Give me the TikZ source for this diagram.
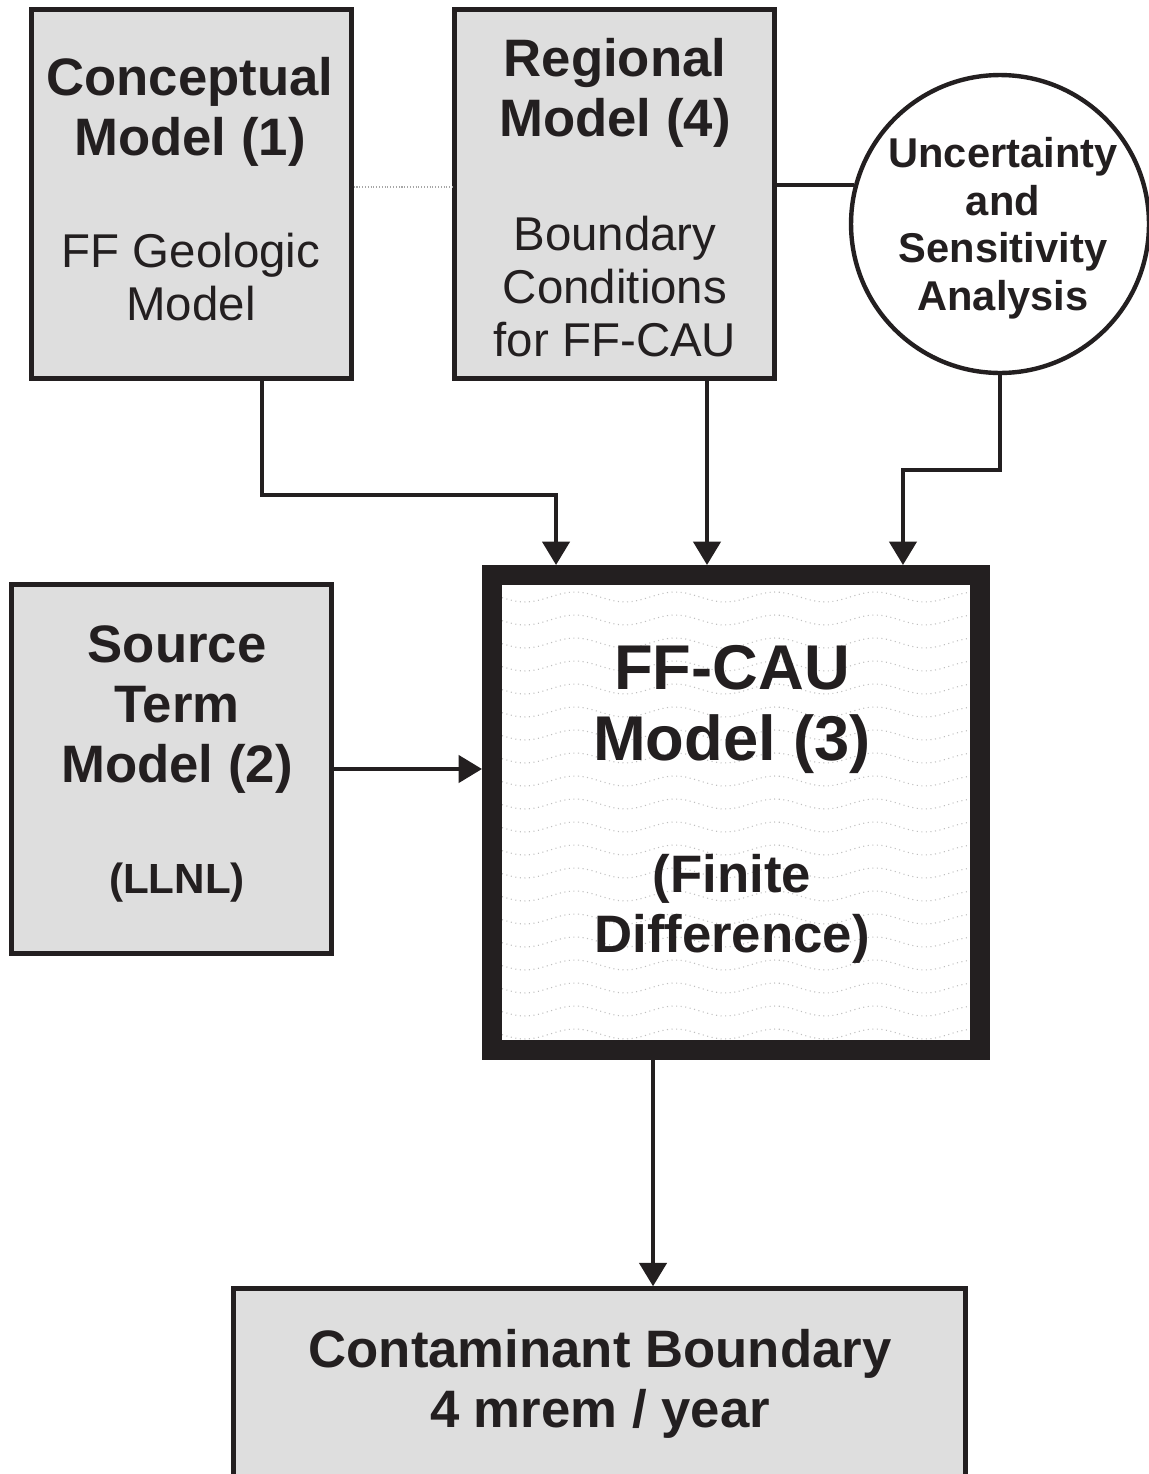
\documentclass[tikz,border=0pt]{standalone}
\usepackage{fontspec}
\setmainfont{Liberation Sans}
\usepackage{xcolor}
\definecolor{boxgray}{RGB}{222,222,222}
\definecolor{inkblack}{RGB}{35,31,32}
\usepackage{tikz}
\usetikzlibrary{positioning}
\usetikzlibrary{arrows.meta}

\begin{document}
\begin{tikzpicture}[x=0.02cm,y=-0.02cm,
  modelbox/.style={draw=inkblack,fill=boxgray,line width=2.5pt,minimum width=6.4cm,minimum height=7.38cm,inner sep=0pt},
  mainbox/.style={draw=inkblack,fill=white,line width=0.4cm,minimum width=9.76cm,minimum height=9.5cm,inner sep=0pt},
  roundbox/.style={circle,draw=inkblack,fill=white,line width=2.5pt,minimum size=5.96cm,inner sep=0pt},
  bigtext/.style={font=\fontsize{30}{34}\selectfont\bfseries,align=center,anchor=base,inner sep=0pt,text=inkblack},
  subtext/.style={font=\fontsize{27}{30}\selectfont,align=center,anchor=base,inner sep=0pt,text=inkblack},
  conn/.style={draw=inkblack,line width=2.6pt,-{Triangle[length=0.47cm,width=0.54cm]}},
  texture/.style={gray!50,dotted,line width=0.6pt}
]
\useasboundingbox (0,0) rectangle (1149,1474);

% boxes
\node[modelbox] (concept) at (191.5,194) {};
\node[modelbox] (regional) at (614.5,194) {};
\node[modelbox] (source) at (171.5,769) {};
\node[roundbox] (uncert) at (1000,224) {};
\node[mainbox] (ffcau) at (736,812.5) {};
\node[modelbox,minimum width=14.64cm,minimum height=4.3cm] (result) at (599.5,1396) {};

% texture inside the main model
\begin{scope}
  \clip (502,585) rectangle (970,1040);
  \foreach \r in {0,...,19}
    \draw[texture] plot[domain=502:970,samples=80] (\x,{597+\r*23+5*sin(3.6*\x)});
\end{scope}

% texts (anchored at the last baseline)
\node[bigtext] (conceptT) at (190,155) {Conceptual\\Model (1)};
\node[subtext] (conceptS) at (191,320) {FF Geologic\\Model};
\node[bigtext] (regionalT) at (615,136) {Regional\\Model (4)};
\node[subtext] (regionalS) at (615,356) {Boundary\\Conditions\\for FF-CAU};
\node[bigtext,font=\fontsize{23.7}{27}\selectfont\bfseries] (uncertT) at (1003,310) {Uncertainty\\and\\Sensitivity\\Analysis};
\node[bigtext] (sourceT) at (177,782) {Source\\Term\\Model (2)};
\node[bigtext,font=\fontsize{24}{28}\selectfont\bfseries] (sourceS) at (177,893) {(LLNL)};
\node[bigtext,font=\fontsize{36}{40}\selectfont\bfseries] (ffcauT) at (732,760) {FF-CAU\\Model (3)};
\node[bigtext] (ffcauS) at (732,952) {(Finite\\Difference)};
\node[bigtext] (resultT) at (600,1427) {Contaminant Boundary\\4 mrem / year};

% connectors
\coordinate (lvl) at (400,187);
\coordinate (bendA) at (262,495);
\coordinate (bendC) at (950,470);
\coordinate (inA) at ([xshift=-3.6cm]ffcau.north);
\coordinate (inB) at ([xshift=-0.58cm]ffcau.north);
\coordinate (inC) at ([xshift=3.34cm]ffcau.north);
\coordinate (outD) at ([xshift=-1.66cm]ffcau.south);
\draw[gray!70,densely dotted,line width=0.6pt] (concept.east |- lvl) -- (regional.west |- lvl);
\draw[inkblack,line width=2.6pt] (regional.east |- uncert.165.5) -- (uncert.165.5);
\draw[conn] (concept.south -| bendA) -- (bendA) -| (inA);
\draw[conn] (regional.south -| inB) -- (inB);
\draw[conn] (uncert.south) |- (bendC) -| (inC);
\draw[conn] (source.east) -- (source.east -| ffcau.west);
\draw[conn] (outD) -- (outD |- result.north);
\end{tikzpicture}
\end{document}
